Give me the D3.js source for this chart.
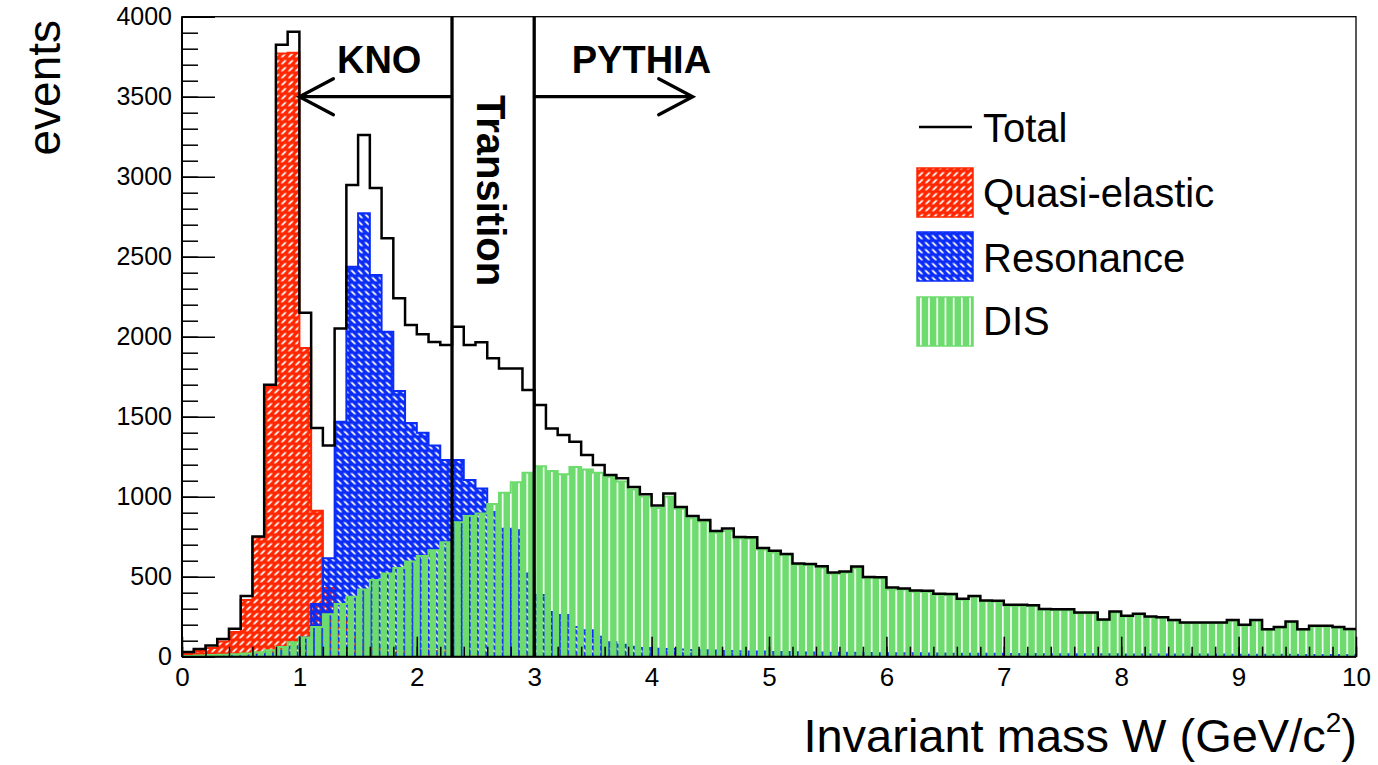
<!DOCTYPE html>
<html><head><meta charset="utf-8">
<script src="https://cdn.jsdelivr.net/npm/d3@7"></script>
<style>
body{margin:0;background:#fff}
svg{display:block}
text{font-family:"Liberation Sans",Arial,Helvetica,sans-serif;fill:#000}
</style>
</head><body>
<svg id="chart" width="1378" height="765"></svg>
<script>
// ---------- data (100 bins of 0.1 GeV from 0 to 10) ----------
const binWidth = 0.1;
const qeValues = [20,35,55,95,155,355,745,1690,3770,3775,
  1930,912,430,250,140,75,62,58,50,45,
  40,36,32,30,27,25,22,20,19,18,
  17,16,15,15,14,13,13,12,12,11,
  11,10,10,10,9,9,9,8,8,8,
  8,8,7,7,7,10,12,7,6,6,
  6,6,5,5,5,5,5,5,4,4,
  4,4,4,4,4,3,3,3,3,3,
  3,3,3,3,3,3,2,2,2,2,
  2,2,2,2,2,2,2,2,2,2];
const resValues = [2,3,4,5,6,8,12,20,35,60,
  120,330,615,1469,2437,2771,2385,2031,1660,1460,
  1400,1320,1229,1229,1104,1052,905,800,790,520,
  385,280,260,185,165,125,90,75,62,55,
  50,48,45,42,40,38,36,34,33,32,
  30,30,28,27,26,25,24,24,23,22,
  22,21,21,20,20,19,19,18,18,18,
  17,17,17,16,16,16,15,15,15,15,
  14,14,14,14,13,13,13,13,13,12,
  12,12,12,12,12,11,11,11,11,11];
const disValues = [5,8,10,12,15,20,28,40,60,90,
  120,185,265,330,375,420,480,520,555,595,
  630,665,715,840,880,895,955,1025,1090,1150,
  1190,1160,1140,1185,1170,1150,1125,1095,1045,1000,
  930,1000,925,865,845,775,785,738,738,670,
  652,634,574,573,556,518,524,555,490,490,
  420,420,406,405,387,386,356,374,346,345,
  319,319,317,293,292,291,272,272,228,277,
  251,263,247,243,226,210,210,210,210,225,
  195,226,168,181,216,168,189,189,181,169];
const totalValues = [30,48,70,110,175,380,752,1700,3825,3906,
  2150,1430,1320,2052,2948,3260,2930,2615,2240,2073,
  2015,1967,1948,2062,1948,1965,1865,1802,1802,1667,
  1573,1427,1385,1344,1260,1198,1135,1115,1060,1015,
  945,1020,935,880,855,785,802,748,746,680,
  662,642,582,580,565,527,532,563,498,496,
  432,427,414,412,394,392,362,380,352,350,
  325,324,322,298,297,296,277,276,232,282,
  256,268,251,247,230,214,214,214,214,230,
  199,230,172,185,220,172,193,193,185,173];
const xTicksMajor = [0,1,2,3,4,5,6,7,8,9,10];
const yTicksMajor = [0,500,1000,1500,2000,2500,3000,3500,4000];
const regionBoundaries = [2.3, 3.0];
const arrows = [{from:2.3, to:1.0, y:3500}, {from:3.0, to:4.35, y:3500}];
const regionLabels = [{text:"KNO", x:1.32, y:3500}, {text:"PYTHIA", x:3.32, y:3500}];
const legendLabels = ["Total","Quasi-elastic","Resonance","DIS"];

// ---------- layout ----------
const svg = d3.select("#chart");
const L = 182, R = 1356, T = 16.7, B = 656.7;
const x = d3.scaleLinear().domain([0,10]).range([L,R]);
const y = d3.scaleLinear().domain([0,4000]).range([B,T]);

const colQE = "#ff2600", colRes = "#0b2cf7", colDIS = "#6ddb6d";

// ---------- patterns ----------
const defs = svg.append("defs");
function hatch(id, color, slash){
  const p = defs.append("pattern").attr("id",id).attr("patternUnits","userSpaceOnUse")
    .attr("x",L).attr("y",T).attr("width",7).attr("height",7);
  const hole = slash ? "M0.5 5.5L4.5 1.5L7 1.5L3 5.5Z" : "M0 1.5L2.5 1.5L6.5 5.5L4 5.5Z";
  p.append("path").attr("d","M0 0H7V7H0Z"+hole).attr("fill",color).attr("fill-rule","evenodd");
}
hatch("pQE", colQE, true);
hatch("pRes", colRes, false);
const pd = defs.append("pattern").attr("id","pDIS").attr("patternUnits","userSpaceOnUse")
  .attr("x",L).attr("y",0).attr("width",8.2).attr("height",10);
pd.append("rect").attr("x",1.6).attr("y",0).attr("width",6.6).attr("height",10).attr("fill",colDIS);

// ---------- histograms ----------
function pts(vals){
  const p = vals.map((v,i)=>[i*binWidth, v]);
  p.push([vals.length*binWidth, vals[vals.length-1]]);
  return p;
}
const area = d3.area().x(d=>x(d[0])).y0(y(0)).y1(d=>y(d[1])).curve(d3.curveStepAfter);
const line = d3.line().x(d=>x(d[0])).y(d=>y(d[1])).curve(d3.curveStepAfter);

const g = svg.append("g");
[[qeValues,"pQE",colQE],[resValues,"pRes",colRes],[disValues,"pDIS",colDIS]].forEach(([vals,pat,col])=>{
  g.append("path").attr("d",area(pts(vals))).attr("fill",`url(#${pat})`);
  g.append("path").attr("d",line(pts(vals))).attr("fill","none").attr("stroke",col).attr("stroke-width",2);
});
g.append("path").attr("d",line(pts(totalValues))).attr("fill","none").attr("stroke","#000").attr("stroke-width",2.5);

// ---------- region lines, arrows, labels ----------
regionBoundaries.forEach(v=>{
  svg.append("line").attr("x1",x(v)).attr("x2",x(v)).attr("y1",T).attr("y2",B)
    .attr("stroke","#000").attr("stroke-width",3.3);
});
arrows.forEach(a=>{
  const dir = Math.sign(a.to-a.from);
  const tx = x(a.to), ty = y(a.y);
  svg.append("line").attr("x1",x(a.from)).attr("x2",tx).attr("y1",ty).attr("y2",ty)
    .attr("stroke","#000").attr("stroke-width",3.3);
  svg.append("path").attr("d",`M${tx-dir*34},${ty-18}L${tx},${ty}L${tx-dir*34},${ty+18}`)
    .attr("fill","none").attr("stroke","#000").attr("stroke-width",3.3).attr("stroke-linecap","round");
});
regionLabels.forEach(l=>{
  svg.append("text").attr("x",x(l.x)).attr("y",y(l.y)-24).attr("font-weight","bold")
    .attr("font-size",38).text(l.text);
});
svg.append("text").attr("transform","translate(477,95) rotate(90)").attr("font-weight","bold")
  .attr("font-size",40).text("Transition");

// ---------- axes ----------
const yMinor = d3.range(0,4001,100);
const xMinor = d3.range(0,10.001,0.2);
const ax = svg.append("g").attr("class","axes");
ax.append("g").attr("transform",`translate(${L},0)`)
  .call(d3.axisLeft(y).tickValues(yMinor).tickSize(-16).tickFormat(""));
const yMajorAxis = ax.append("g").attr("transform",`translate(${L},0)`)
  .call(d3.axisLeft(y).tickValues(yTicksMajor).tickSize(-33).tickPadding(10).tickFormat(d3.format("d")));
ax.append("g").attr("transform",`translate(0,${B})`)
  .call(d3.axisBottom(x).tickValues(xMinor).tickSize(-10).tickFormat(""));
const xMajorAxis = ax.append("g").attr("transform",`translate(0,${B})`)
  .call(d3.axisBottom(x).tickValues(xTicksMajor).tickSize(-20).tickPadding(11).tickFormat(d3.format("d")));
ax.selectAll(".domain").remove();
ax.selectAll(".tick line").attr("stroke","#000").attr("stroke-width",1.5);
yMajorAxis.selectAll("text").attr("font-size",25).attr("font-family",null);
xMajorAxis.selectAll("text").attr("font-size",26).attr("font-family",null);
// frame
svg.append("rect").attr("x",L).attr("y",T).attr("width",R-L).attr("height",B-T)
  .attr("fill","none").attr("stroke","#000").attr("stroke-width",1.3);
svg.append("line").attr("x1",L).attr("x2",L).attr("y1",T).attr("y2",B).attr("stroke","#000").attr("stroke-width",2);
svg.append("line").attr("x1",L).attr("x2",R).attr("y1",B).attr("y2",B).attr("stroke","#000").attr("stroke-width",2);

// axis titles
const xt = svg.append("text").attr("x",1357).attr("y",752).attr("text-anchor","end").attr("font-size",47);
xt.append("tspan").text("Invariant mass W (GeV/c");
xt.append("tspan").attr("font-size",28).attr("dy",-20).text("2");
xt.append("tspan").attr("dy",20).text(")");
svg.append("text").attr("transform","translate(60,20) rotate(-90)").attr("text-anchor","end")
  .attr("font-size",46).text("events");

// ---------- legend ----------
const lg = svg.append("g");
lg.append("line").attr("x1",919).attr("x2",972).attr("y1",127).attr("y2",127).attr("stroke","#000").attr("stroke-width",2.5);
const boxes = [[168,"pQE",colQE],[232,"pRes",colRes],[297,"pDIS",colDIS]];
boxes.forEach(([by,pat,col])=>{
  lg.append("rect").attr("x",917).attr("y",by).attr("width",56).attr("height",49)
    .attr("fill",`url(#${pat})`).attr("stroke",col).attr("stroke-width",1.5);
});
const baselines = [141.5,207.3,271.7,335];
legendLabels.forEach((t,i)=>{
  lg.append("text").attr("x",983).attr("y",baselines[i]).attr("font-size",40).text(t);
});
</script>
</body></html>
